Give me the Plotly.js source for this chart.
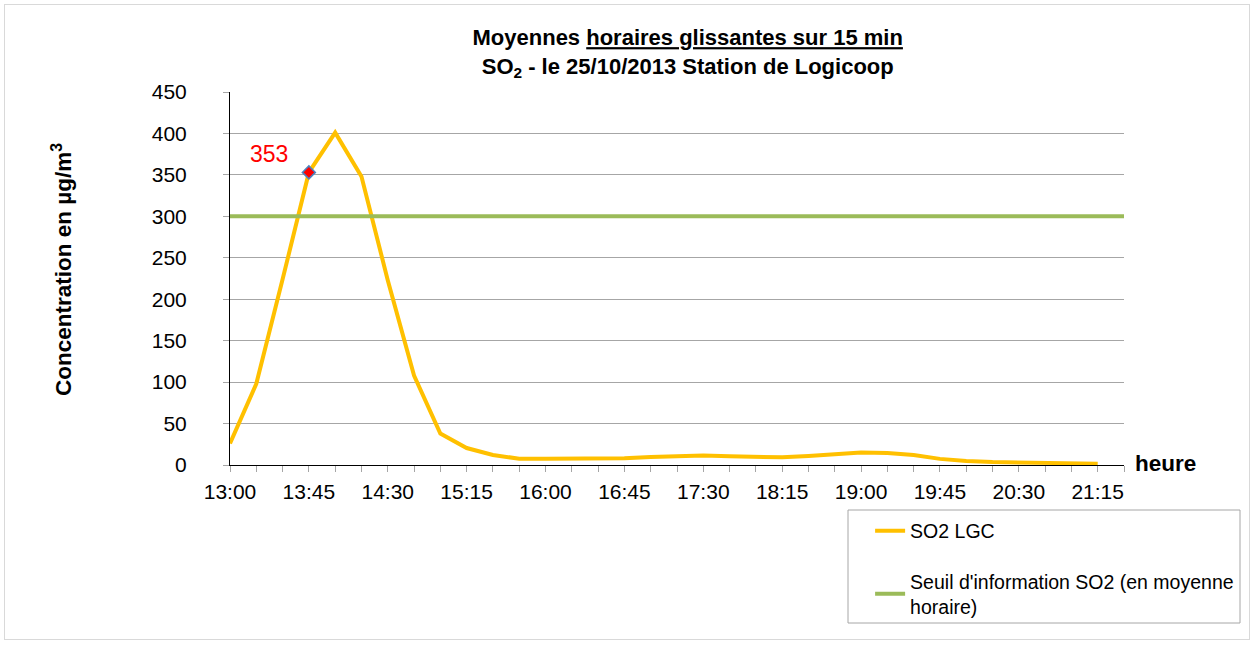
<!DOCTYPE html>
<html>
<head>
<meta charset="utf-8">
<script src="https://cdn.plot.ly/plotly-3.0.1.min.js"></script>
<style>
  html, body { margin: 0; padding: 0; background: #ffffff; }
  #frame { position: absolute; left: 4px; top: 4px; width: 1246px; height: 636px; border: 1px solid #d9d9d9; box-sizing: border-box; pointer-events: none; }
  #chart { width: 1255px; height: 645px; }
</style>
</head>
<body>
<div id="chart"></div>
<div id="frame"></div>
<script>
// Categories: one every 15 minutes
const times = ["13:00","13:15","13:30","13:45","14:00","14:15","14:30","14:45",
  "15:00","15:15","15:30","15:45","16:00","16:15","16:30","16:45",
  "17:00","17:15","17:30","17:45","18:00","18:15","18:30","18:45",
  "19:00","19:15","19:30","19:45","20:00","20:15","20:30","20:45",
  "21:00","21:15","21:30"];
// SO2 LGC sliding hourly averages (µg/m³)
const so2 = [26, 98, 224, 353, 401, 348, 223, 108,
  38, 20.5, 12, 7.6, 7.4, 7.4, 7.4, 8,
  9.6, 11, 11.5, 10.5, 9.5, 9.2, 11, 13.6,
  15.2, 14.5, 12, 7.4, 4.8, 3.6, 3.2, 2.8,
  2.4, 1.6, null];
// Information threshold
const seuil = times.map(() => 300);
// Labeled tick categories
const tickLabels = ["13:00","13:45","14:30","15:15","16:00","16:45","17:30","18:15","19:00","19:45","20:30","21:15"];
const highlightIndex = 3;

const font = "Arial, 'Liberation Sans', sans-serif";

const traces = [
  {
    x: times, y: so2, type: "scatter", mode: "lines", name: "SO2 LGC",
    line: { color: "#FFC000", width: 4 }, legendgroup: "a", connectgaps: false
  },
  {
    x: times, y: seuil, type: "scatter", mode: "lines",
    name: "Seuil d'information SO2 (en moyenne<br>horaire)",
    line: { color: "#9BBB59", width: 4 }, legendgroup: "b"
  },
  {
    x: [times[highlightIndex]], y: [so2[highlightIndex]], type: "scatter", mode: "markers",
    showlegend: false, hoverinfo: "skip",
    marker: { symbol: "diamond", size: 10, color: "#FF0000", line: { color: "#4F81BD", width: 1.5 } }
  }
];

const layout = {
  width: 1255, height: 645,
  paper_bgcolor: "#ffffff", plot_bgcolor: "#ffffff",
  margin: { l: 230, r: 131, t: 92, b: 180 },
  font: { family: font, size: 20, color: "#000000" },
  title: {
    text: "<b>Moyennes <u>horaires glissantes sur 15 min</u></b><br><b>SO<sub>2</sub> - le 25/10/2013 Station de Logicoop</b>",
    font: { family: font, size: 22, color: "#000000" },
    xref: "paper", x: 0.512, xanchor: "center",
    yref: "container", y: 0.93, yanchor: "top"
  },
  xaxis: {
    type: "category",
    range: [0, times.length - 1],
    tickmode: "array",
    tickvals: times,
    ticktext: times.map(t => tickLabels.includes(t) ? t : ""),
    ticks: "outside", ticklen: 6, tickcolor: "#a6a6a6", tickwidth: 1,
    showline: true, linecolor: "#000000", linewidth: 1,
    showgrid: false, zeroline: false,
    tickangle: 0, ticklabelstandoff: 2,
    tickfont: { family: font, size: 21, color: "#000000" }
  },
  yaxis: {
    range: [0, 450], dtick: 50, tick0: 0,
    ticks: "outside", ticklen: 6, tickcolor: "#a6a6a6", tickwidth: 1,
    showline: true, linecolor: "#000000", linewidth: 1,
    showgrid: true, gridcolor: "#a6a6a6", gridwidth: 1,
    zeroline: false, ticklabelstandoff: 32,
    tickfont: { family: font, size: 21, color: "#000000" }
  },
  showlegend: true,
  legend: {
    x: 0.716, xanchor: "left", y: -0.125, yanchor: "top",
    xref: "paper", yref: "paper",
    traceorder: "grouped", tracegroupgap: 22,
    bgcolor: "rgba(0,0,0,0)", borderwidth: 0,
    font: { family: font, size: 19.5, color: "#000000" },
    itemwidth: 30
  },
  shapes: [
    { type: "rect", xref: "paper", yref: "paper",
      x0: (848 - 230) / 894, x1: (1240 - 230) / 894,
      y0: (465 - 623) / 373, y1: (465 - 510) / 373,
      line: { color: "#a6a6a6", width: 1 }, fillcolor: "rgba(0,0,0,0)" }
  ],
  annotations: [
    { text: String(so2[highlightIndex]), x: times[highlightIndex], y: so2[highlightIndex],
      xref: "x", yref: "y", showarrow: false, xshift: -40, yshift: 18,
      font: { family: font, size: 23, color: "#FF0000" } },
    { text: "<b>heure</b>", xref: "paper", yref: "paper",
      x: (1133 - 230) / 894, xanchor: "left", y: 0.005, yanchor: "middle",
      showarrow: false, font: { family: font, size: 22.5, color: "#000000" } },
    { text: "<b>Concentration en µg/m<sup>3</sup></b>", xref: "paper", yref: "paper",
      x: (62 - 230) / 894, xanchor: "center", y: (465 - 270) / 373, yanchor: "middle",
      textangle: -90, showarrow: false, font: { family: font, size: 22.5, color: "#000000" } }
  ]
};

Plotly.newPlot("chart", traces, layout, { staticPlot: true, displayModeBar: false });
</script>
</body>
</html>
